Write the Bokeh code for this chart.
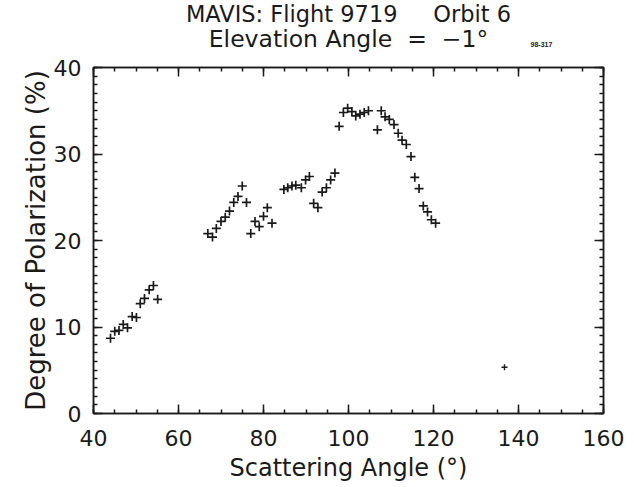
from bokeh.plotting import figure
from bokeh.layouts import column
from bokeh.models import (Range1d, LinearAxis, SingleIntervalTicker, Label,
                          ColumnDataSource)
from bokeh.embed import file_html
from bokeh.resources import INLINE

# ---- data ----
scat_angle = [44.0, 45.0, 46.0, 47.0, 48.0, 49.1, 50.1, 51.0, 52.0, 53.1, 54.1, 55.1,
              66.9, 68.0, 68.9, 70.0, 71.0, 72.0, 73.0, 74.0, 75.0, 76.0,
              77.0, 78.0, 79.0, 80.0, 80.9, 82.0,
              84.8, 85.7, 86.7, 87.6, 88.9, 89.9, 90.8, 91.8, 92.8, 93.8, 94.8,
              95.8, 96.8, 97.8, 98.8, 99.8, 100.8, 101.7, 102.7, 103.7, 104.7,
              106.8, 107.7, 108.6, 109.6, 110.7, 111.7, 112.6, 113.6, 114.7,
              115.6, 116.6, 117.6, 118.6, 119.5, 120.5]
polarization = [8.7, 9.5, 9.6, 10.3, 9.9, 11.2, 11.1, 12.7, 13.3, 14.3, 14.8, 13.2,
                20.8, 20.4, 21.4, 22.2, 22.7, 23.4, 24.4, 25.1, 26.3, 24.4,
                20.8, 22.2, 21.6, 22.8, 23.8, 22.0,
                25.9, 26.1, 26.3, 26.4, 26.1, 27.0, 27.4, 24.3, 23.8, 25.6, 26.1,
                27.0, 27.8, 33.2, 34.8, 35.3, 34.9, 34.4, 34.6, 34.8, 35.0,
                32.8, 35.0, 34.3, 34.0, 33.4, 32.4, 31.6, 31.1, 29.7,
                27.3, 26.0, 24.0, 23.3, 22.4, 22.0]
outlier_angle = [136.7]
outlier_pol = [5.35]

x_ticks_interval = 20
y_ticks_interval = 10
title_line1 = "MAVIS: Flight 9719\u00a0\u00a0\u00a0\u00a0\u00a0Orbit 6"
title_line2 = "Elevation Angle\u00a0\u00a0=\u00a0\u00a0\u22121\u00b0"
stamp = "98-317"
x_label = "Scattering Angle (\u00b0)"
y_label = "Degree of Polarization (%)"

FONT = "DejaVu Sans"
INK = "#1a1a1a"
HEADER_H = 53
X_RANGE = (40, 160)

# ---------------- header (titles) ----------------
hdr = figure(width=634, height=HEADER_H, output_backend="svg", toolbar_location=None,
             title=None,
             x_range=Range1d(*X_RANGE), y_range=Range1d(HEADER_H, 0),
             x_axis_type=None, y_axis_type=None,
             min_border_left=93, min_border_right=31, min_border_top=0,
             min_border_bottom=0)
hdr.grid.visible = False
hdr.outline_line_color = None
hdr.background_fill_color = "white"
hdr.border_fill_color = "white"
hdr.add_layout(Label(x=100, y=13.5, text=title_line1, text_align="center",
                     text_baseline="alphabetic", text_font=FONT,
                     text_font_size="22.5px", text_color=INK))
hdr.add_layout(Label(x=100, y=38, text=title_line2, text_align="center",
                     text_baseline="alphabetic", text_font=FONT,
                     text_font_size="23.5px", text_color=INK))
hdr.add_layout(Label(x=145.4, y=43.5, text=stamp, text_align="center",
                     text_baseline="alphabetic", text_font="Liberation Sans",
                     text_font_size="7px", text_font_style="bold", text_color=INK))

# ---------------- main plot ----------------
p = figure(width=634, height=487 - HEADER_H, output_backend="svg", toolbar_location=None,
           title=None,
           x_range=Range1d(*X_RANGE), y_range=Range1d(0, 40),
           x_axis_type=None, y_axis_type=None,
           min_border_left=93, min_border_right=31,
           min_border_top=14, min_border_bottom=74)
p.grid.visible = False
p.outline_line_color = INK
p.outline_line_width = 1.5
p.background_fill_color = "white"
p.border_fill_color = "white"


def make_axis(ticker, labels=True, label_text=None, label_size="24px"):
    ax = LinearAxis(ticker=ticker)
    ax.axis_line_color = INK
    ax.axis_line_width = 1.5
    ax.major_tick_line_color = INK
    ax.minor_tick_line_color = INK
    ax.major_tick_line_width = 1.5
    ax.minor_tick_line_width = 1.5
    ax.major_tick_in = 9
    ax.major_tick_out = 0
    ax.minor_tick_in = 4
    ax.minor_tick_out = 0
    if labels:
        ax.major_label_text_font = FONT
        ax.major_label_text_font_size = "22px"
        ax.major_label_text_color = INK
    else:
        ax.major_label_text_font_size = "0px"
        ax.major_label_text_alpha = 0
    if label_text:
        ax.axis_label = label_text
        ax.axis_label_text_font = FONT
        ax.axis_label_text_font_size = label_size
        ax.axis_label_text_font_style = "normal"
        ax.axis_label_text_color = INK
    return ax


xt = SingleIntervalTicker(interval=x_ticks_interval, num_minor_ticks=4)
yt = SingleIntervalTicker(interval=y_ticks_interval, num_minor_ticks=10)

xb = make_axis(xt, True, x_label, "24px")
xb.major_label_standoff = 16
xb.axis_label_standoff = 5
p.add_layout(xb, "below")

yl = make_axis(yt, True, y_label, "26px")
yl.major_label_standoff = 12
yl.axis_label_standoff = 0
p.add_layout(yl, "left")

xa = make_axis(SingleIntervalTicker(interval=x_ticks_interval, num_minor_ticks=4), False)
xa.major_label_standoff = 0
p.add_layout(xa, "above")
yr = make_axis(SingleIntervalTicker(interval=y_ticks_interval, num_minor_ticks=10), False)
yr.major_label_standoff = 0
p.add_layout(yr, "right")

src = ColumnDataSource(dict(x=scat_angle, y=polarization))
p.scatter("x", "y", source=src, marker="cross", size=9, line_width=1.7,
          line_color=INK)
src2 = ColumnDataSource(dict(x=outlier_angle, y=outlier_pol))
p.scatter("x", "y", source=src2, marker="cross", size=6, line_width=1.4,
          line_color=INK)

layout = column(hdr, p, spacing=0)
open("out.html", "w").write(file_html(layout, INLINE))
